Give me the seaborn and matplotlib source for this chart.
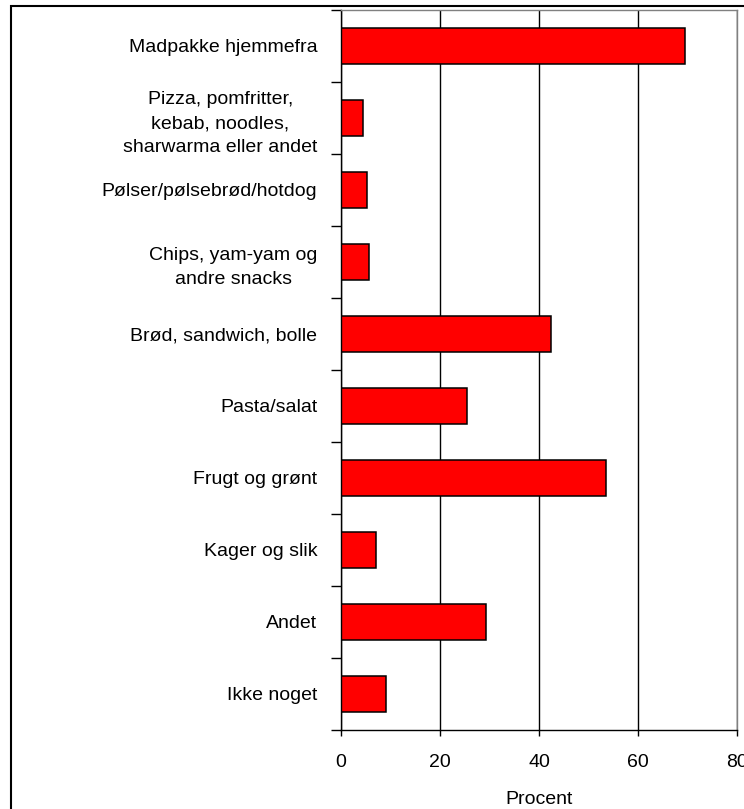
import numpy as np
import pandas as pd
import matplotlib
matplotlib.use("Agg")
import matplotlib.pyplot as plt
import seaborn as sns
from matplotlib.patches import Rectangle

categories = [
    "Madpakke hjemmefra",
    "Pizza, pomfritter,\nkebab, noodles,\nsharwarma eller andet",
    "Pølser/pølsebrød/hotdog",
    "Chips, yam-yam og\nandre snacks",
    "Brød, sandwich, bolle",
    "Pasta/salat",
    "Frugt og grønt",
    "Kager og slik",
    "Andet",
    "Ikke noget",
]
values = [69.4, 4.5, 5.2, 5.6, 42.4, 25.5, 53.5, 7.1, 29.2, 9.0]
x_ticks = [0, 20, 40, 60, 80]

sns.set_style("white", {"text.color": "black", "xtick.color": "black",
                        "ytick.color": "black", "axes.labelcolor": "black"})
plt.rcParams["font.family"] = ["Liberation Sans", "DejaVu Sans"]

df = pd.DataFrame({"kategori": categories, "procent": values})

fig = plt.figure(figsize=(7.44, 8.09), dpi=100)
ax = fig.add_axes([341 / 744, 1 - 730 / 809, 396 / 744, 720 / 809])

ax.xaxis.grid(True, color="black", linewidth=1)
ax.set_axisbelow(True)
sns.barplot(data=df, x="procent", y="kategori", orient="h", color="#ff0000",
            saturation=1, edgecolor="black", linewidth=1.1, width=0.5, ax=ax)

ax.set_xlim(0, 80)
ax.set_ylim(len(categories) - 0.5, -0.5)
ax.set_xticks(x_ticks)
ax.set_xticklabels([str(t) for t in x_ticks], fontsize=14, color="black")
ax.set_yticks(np.arange(len(categories)))
ax.set_yticklabels(categories, fontsize=14, multialignment="center", color="black")
ax.set_yticks(np.arange(len(categories) + 1) - 0.5, minor=True)
ax.tick_params(axis="y", which="major", length=0, pad=17)
ax.tick_params(axis="y", which="minor", length=7, width=1, color="black", left=True)
ax.tick_params(axis="x", which="major", length=4, width=1, color="black", bottom=True, pad=13)
for lab in ax.get_yticklabels():
    lab.set_linespacing(1.55)

ax.set_xlabel("Procent", fontsize=14, labelpad=15, color="black")
ax.set_ylabel("")

for side in ["left", "bottom"]:
    ax.spines[side].set_color("black")
    ax.spines[side].set_linewidth(1)
for side in ["top", "right"]:
    ax.spines[side].set_color("#808080")
    ax.spines[side].set_linewidth(1)

# border around the whole chart
fig.patches.append(Rectangle((11 / 744, -0.1), 1.2, 1.1 - 6 / 809, transform=fig.transFigure,
                             fill=False, edgecolor="black", linewidth=1.5, clip_on=False))

fig.savefig("out.png", dpi=100)
